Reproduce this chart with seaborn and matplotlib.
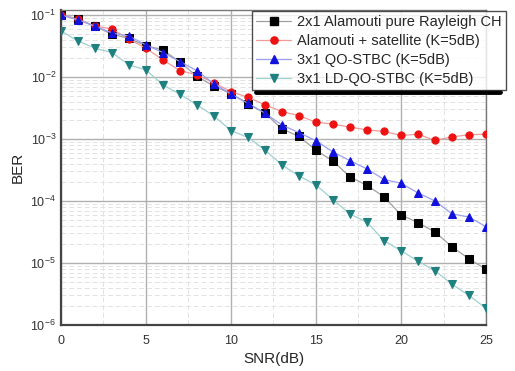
import matplotlib
matplotlib.use("Agg")
import matplotlib.pyplot as plt
import numpy as np
import pandas as pd
import seaborn as sns
from matplotlib.ticker import LogLocator, MultipleLocator, NullFormatter
from matplotlib.lines import Line2D

snr = list(range(0, 26))

ber_alamouti = [0.1, 0.0861, 0.0653, 0.049, 0.0417, 0.032, 0.0272, 0.0174, 0.0102,
                0.00708, 0.00537, 0.00367, 0.0026, 0.00145, 0.0011, 6.6e-4, 4.4e-4,
                2.45e-4, 1.78e-4, 1.17e-4, 5.96e-5, 4.47e-5, 3.16e-5, 1.82e-5,
                1.17e-5, 7.9e-6]
ber_satellite = [0.1, 0.085, 0.066, 0.0594, 0.0407, 0.029, 0.0188, 0.01265, 0.0108,
                 0.008, 0.0058, 0.0047, 0.00355, 0.00276, 0.00238, 0.00186, 0.00174,
                 0.00155, 0.0014, 0.00132, 0.00114, 0.00119, 0.00095, 0.00108,
                 0.00117, 0.00119]
ber_qo = [0.1, 0.083, 0.066, 0.051, 0.0457, 0.0328, 0.0247, 0.0177, 0.0126,
          0.0077, 0.00532, 0.00377, 0.0026, 0.00168, 0.00126, 9.4e-4, 6.16e-4,
          4.47e-4, 3.28e-4, 2.22e-4, 1.93e-4, 1.35e-4, 1.0e-4, 6.2e-5, 5.5e-5,
          3.85e-5]
ber_ldqo = [0.0552, 0.038, 0.029, 0.0247, 0.0156, 0.013, 0.00743, 0.00528, 0.00353,
            0.00235, 0.00136, 0.00106, 6.65e-4, 3.8e-4, 2.53e-4, 1.81e-4, 1.05e-4,
            6.17e-5, 4.53e-5, 2.29e-5, 1.58e-5, 1.07e-5, 7.5e-6, 4.53e-6, 3.0e-6,
            1.86e-6]

labels = ["2x1 Alamouti pure Rayleigh CH", "Alamouti + satellite (K=5dB)",
          "3x1 QO-STBC (K=5dB)", "3x1 LD-QO-STBC (K=5dB)"]

df = pd.DataFrame({"SNR": snr, labels[0]: ber_alamouti, labels[1]: ber_satellite,
                   labels[2]: ber_qo, labels[3]: ber_ldqo})
df = df.melt(id_vars="SNR", var_name="scheme", value_name="BER")

# line colour, marker colour, marker
styles = {
    labels[0]: ("#a0a0a0", "#000000", "s"),
    labels[1]: ("#f09a9a", "#ee1111", "o"),
    labels[2]: ("#9a9ff0", "#1111dd", "^"),
    labels[3]: ("#9fd0d0", "#1f8080", "v"),
}

sns.set_style("white")
plt.rcParams["font.family"] = ["Liberation Sans", "DejaVu Sans"]

fig = plt.figure(figsize=(5.15, 3.71), dpi=100)
ax = fig.add_axes([0.1184, 0.124, 0.8253, 0.849])

ms = 5.2
handles = []
for name in labels:
    lc, mc, mk = styles[name]
    sub = df[df["scheme"] == name]
    sns.lineplot(data=sub, x="SNR", y="BER", ax=ax, color=lc, lw=0.9,
                 marker=mk, markersize=ms, markerfacecolor=mc,
                 markeredgecolor=mc, legend=False, zorder=3)
    handles.append(Line2D([], [], color=lc, lw=0.9, marker=mk, markersize=ms,
                          markerfacecolor=mc, markeredgecolor=mc))

ax.set_yscale("log")
ax.set_xlim(0, 25)
ax.set_ylim(1e-6, 0.12)
ax.xaxis.set_major_locator(MultipleLocator(5))
ax.xaxis.set_minor_locator(MultipleLocator(2.5))
ax.yaxis.set_major_locator(LogLocator(base=10, numticks=10))
ax.yaxis.set_minor_locator(LogLocator(base=10, subs=np.arange(2, 10), numticks=20))
ax.yaxis.set_minor_formatter(NullFormatter())

ax.grid(which="major", color="#b0b0b0", lw=1.0, ls="-")
ax.grid(which="minor", color="#e2e2e2", lw=0.7, ls=(0, (5, 3)))
ax.tick_params(which="both", direction="in", colors="#333333", labelsize=9)
ax.tick_params(axis="x", which="major", pad=7)
ax.tick_params(which="major", length=4)
ax.tick_params(which="minor", length=2.5)
for s in ["left", "bottom"]:
    ax.spines[s].set_color("#444444")
    ax.spines[s].set_linewidth(1.6)
for s in ["top", "right"]:
    ax.spines[s].set_color("#777777")
    ax.spines[s].set_linewidth(1.0)

ax.set_xlabel("SNR(dB)", fontsize=11, labelpad=4)
ax.set_ylabel("BER", fontsize=11, labelpad=4)

leg = fig.legend(handles, labels, loc="upper left",
                 bbox_to_anchor=(252 / 515, 1 - 11 / 371), fontsize=10.5,
                 frameon=True, fancybox=False, handlelength=2.4,
                 handletextpad=0.4, labelspacing=0.33, borderpad=0.3,
                 borderaxespad=0)
leg.get_frame().set_edgecolor("#222222")
leg.get_frame().set_linewidth(1.0)
fig.add_artist(Line2D([256 / 515, 500 / 515], [1 - 92 / 371, 1 - 92 / 371],
                      transform=fig.transFigure, color="black", lw=3.5))

fig.savefig("out.png", dpi=100)
